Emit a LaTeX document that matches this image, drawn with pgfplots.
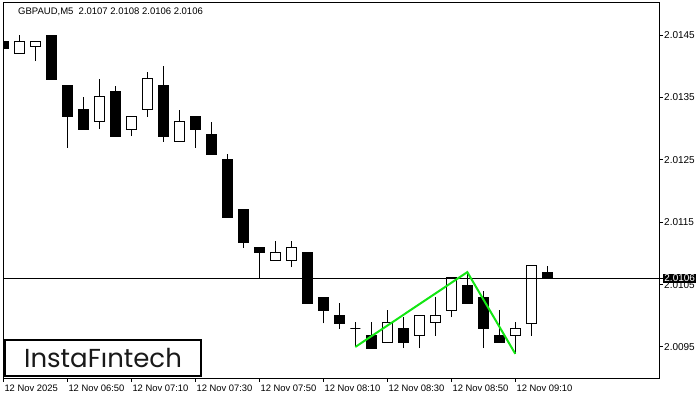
\documentclass[border=0pt]{standalone}
\usepackage{pgfplots}
\pgfplotsset{compat=1.18}
\usepackage{pgfplotstable}
\usepackage{fontspec}
\setmainfont{Liberation Sans}
\newfontfamily\logofont{Poppins}
\definecolor{patgreen}{RGB}{20,230,20}

\pgfplotstableread{
i o h l c w
0 2.01439 2.01448 2.01410 2.01429 0
1 2.01421 2.01450 2.01421 2.01439 1
2 2.01431 2.01439 2.01408 2.01439 1
3 2.01450 2.01450 2.01379 2.01379 0
4 2.01369 2.01369 2.01269 2.01319 0
5 2.01330 2.01351 2.01299 2.01299 0
6 2.01311 2.01380 2.01299 2.01351 1
7 2.01360 2.01369 2.01288 2.01288 0
8 2.01299 2.01320 2.01288 2.01320 1
9 2.01330 2.01391 2.01319 2.01380 1
10 2.01369 2.01400 2.01279 2.01288 0
11 2.01279 2.01330 2.01279 2.01311 1
12 2.01320 2.01320 2.01269 2.01299 0
13 2.01290 2.01311 2.01259 2.01259 0
14 2.01250 2.01259 2.01158 2.01158 0
15 2.01170 2.01171 2.01109 2.01118 0
16 2.01110 2.01110 2.01061 2.01101 0
17 2.01088 2.01120 2.01088 2.01101 1
18 2.01088 2.01120 2.01078 2.01110 1
19 2.01101 2.01101 2.01019 2.01019 0
20 2.01030 2.01030 2.00988 2.01008 0
21 2.01000 2.01021 2.00979 2.00988 0
22 2.00979 2.00990 2.00950 2.00979 0
23 2.00969 2.00990 2.00948 2.00948 0
24 2.00958 2.01009 2.00958 2.00990 1
25 2.00979 2.00998 2.00948 2.00958 0
26 2.00968 2.01000 2.00948 2.01000 1
27 2.00990 2.01030 2.00968 2.01000 1
28 2.01009 2.01061 2.00998 2.01061 1
29 2.01049 2.01070 2.01019 2.01019 0
30 2.01030 2.01040 2.00948 2.00979 0
31 2.00969 2.01009 2.00958 2.00958 0
32 2.00968 2.00990 2.00939 2.00979 1
33 2.00988 2.01080 2.00968 2.01080 1
34 2.01070 2.01080 2.01061 2.01061 0
}\candles

\begin{document}
\begin{tikzpicture}
\path[use as bounding box] (0pt,0pt) rectangle (700pt,400pt);
\begin{axis}[
  at={(3pt,22pt)}, anchor=south west,
  scale only axis, width=656pt, height=375.5pt,
  xmin=-0.02, xmax=40.98, ymin=2.009003, ymax=2.015021,
  axis line style={black, line width=1pt},
  tick align=outside, major tick length=4pt,
  tick style={black, line width=1pt},
  xtick pos=bottom, ytick pos=right, yticklabel pos=right,
  scaled y ticks=false,
  xtick={0,4,8,12,16,20,24,28,32},
  xticklabels={12 Nov 2025, 12 Nov 06:50, 12 Nov 07:10, 12 Nov 07:30, 12 Nov 07:50, 12 Nov 08:10, 12 Nov 08:30, 12 Nov 08:50, 12 Nov 09:10},
  ytick={2.0095,2.0105,2.0115,2.0125,2.0135,2.0145},
  yticklabels={2.0095,2.0105,2.0115,2.0125,2.0135,2.0145},
  extra y ticks={2.0106}, extra y tick labels={2.0106},
  extra y tick style={yticklabel style={fill=black, text=white, inner sep=1.2pt}},
  xticklabel style={anchor=north west, inner sep=1pt, yshift=-1.5pt, font=\fontsize{9.4}{10}\selectfont},
  yticklabel style={anchor=west, inner sep=1pt, font=\fontsize{10}{11}\selectfont},
]
\pgfplotsforeachungrouped \k in {0,...,34}{
  \pgfplotstablegetelem{\k}{i}\of\candles \let\ci\pgfplotsretval
  \pgfplotstablegetelem{\k}{o}\of\candles \let\co\pgfplotsretval
  \pgfplotstablegetelem{\k}{h}\of\candles \let\ch\pgfplotsretval
  \pgfplotstablegetelem{\k}{l}\of\candles \let\cl\pgfplotsretval
  \pgfplotstablegetelem{\k}{c}\of\candles \let\cc\pgfplotsretval
  \pgfplotstablegetelem{\k}{w}\of\candles \let\cw\pgfplotsretval
  \pgfmathsetmacro\xa{\ci-0.31}
  \pgfmathsetmacro\xb{\ci+0.31}
  \edef\tmp{\noexpand\addplot[black, line width=1pt, forget plot] coordinates {(\ci,\cl) (\ci,\ch)};
    \noexpand\addplot[draw=black, line width=1pt, fill=\ifnum\cw=1 white\else black\fi, forget plot] coordinates {(\xa,\co) (\xb,\co) (\xb,\cc) (\xa,\cc)} -- cycle;}
  \tmp
}
\addplot[black, line width=1pt, forget plot] coordinates {(-1,2.0106) (42,2.0106)};
\addplot[patgreen, line width=2pt, forget plot] coordinates {(22,2.00950) (29,2.01070) (32,2.00939)};
\node[anchor=north west, inner sep=0pt, font=\fontsize{9.5}{10}\selectfont] at (rel axis cs:0,1) [xshift=15pt, yshift=-5pt] {GBPAUD,M5\ \ 2.0107 2.0108 2.0106 2.0106};
\node[draw=black, line width=2pt, fill=white, anchor=south west, minimum width=196pt, minimum height=36pt, inner sep=0pt, font=\logofont\fontsize{26}{26}\selectfont, text=black!90] at (rel axis cs:0,0) [xshift=1pt, yshift=1pt] {InstaFıntech};
\end{axis}
\end{tikzpicture}
\end{document}
